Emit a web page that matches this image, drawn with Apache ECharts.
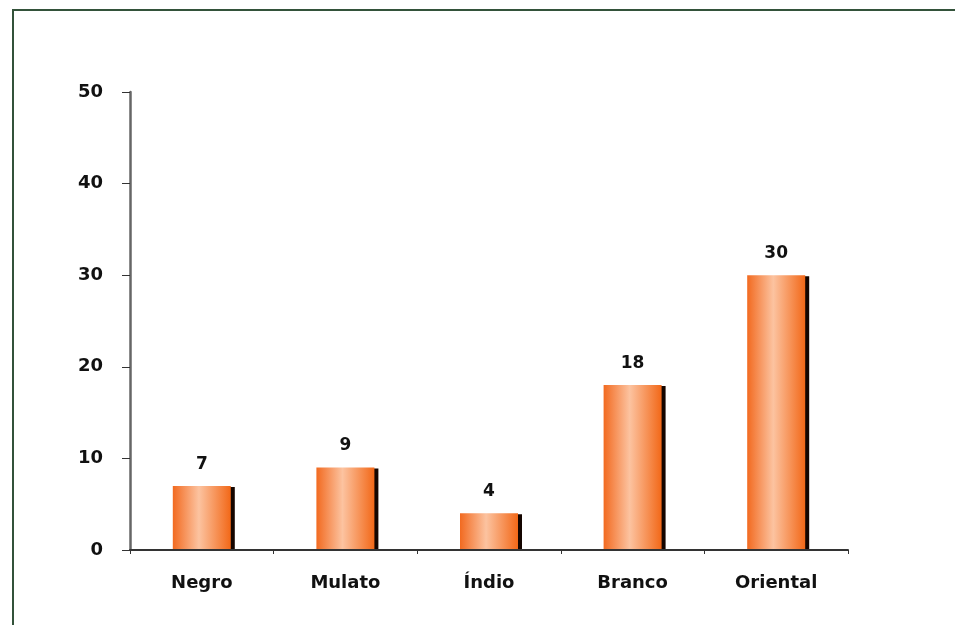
<!DOCTYPE html>
<html>
<head>
<meta charset="utf-8">
<script src="https://cdn.jsdelivr.net/npm/echarts@6/dist/echarts.min.js"></script>
<style>
  html, body { margin: 0; padding: 0; background: #ffffff; }
  #chart { width: 955px; height: 625px; }
</style>
</head>
<body>
<div id="chart"></div>
<script>
// Groups and counts
const categories = ['Negro', 'Mulato', 'Índio', 'Branco', 'Oriental'];
const values = [7, 9, 4, 18, 30];
const yTicks = [0, 10, 20, 30, 40, 50];

const chart = echarts.init(document.getElementById('chart'));

const barFill = new echarts.graphic.LinearGradient(0, 0, 1, 0, [
  { offset: 0, color: '#f26a20' },
  { offset: 0.45, color: '#fcc3a0' },
  { offset: 1, color: '#f26818' }
]);

const labelFont = 'DejaVu Sans, Verdana, sans-serif';

chart.setOption({
  backgroundColor: '#ffffff',
  animation: false,
  textStyle: { fontFamily: labelFont },
  graphic: [
    {
      type: 'rect',
      shape: { x: 13, y: 10, width: 1000, height: 700 },
      style: { fill: 'none', stroke: '#33523a', lineWidth: 2 },
      silent: true
    }
  ],
  grid: { left: 130, right: 107, top: 92, bottom: 75 },
  xAxis: {
    type: 'category',
    data: categories,
    boundaryGap: true,
    z: 5,
    axisLine: { lineStyle: { color: '#333333', width: 2 } },
    axisTick: { show: true, length: 4, lineStyle: { color: '#333333' } },
    axisLabel: {
      margin: 24,
      color: '#111111',
      fontFamily: labelFont,
      fontWeight: 'bold',
      fontSize: 18
    }
  },
  yAxis: {
    type: 'value',
    min: yTicks[0],
    max: yTicks[yTicks.length - 1],
    interval: 10,
    splitLine: { show: false },
    axisLine: { show: true, lineStyle: { color: '#666666', width: 2.5 } },
    axisTick: { show: true, length: 8, lineStyle: { color: '#333333' } },
    axisLabel: {
      margin: 27,
      color: '#111111',
      fontFamily: labelFont,
      fontWeight: 'bold',
      fontSize: 18
    }
  },
  series: [
    {
      type: 'bar',
      data: values,
      barWidth: 58,
      itemStyle: {
        color: barFill,
        shadowColor: '#140500',
        shadowOffsetX: 4,
        shadowOffsetY: 1,
        shadowBlur: 0
      },
      label: {
        show: true,
        position: 'top',
        distance: 13,
        color: '#111111',
        fontFamily: labelFont,
        fontWeight: 'bold',
        fontSize: 17
      }
    }
  ]
});
</script>
</body>
</html>
